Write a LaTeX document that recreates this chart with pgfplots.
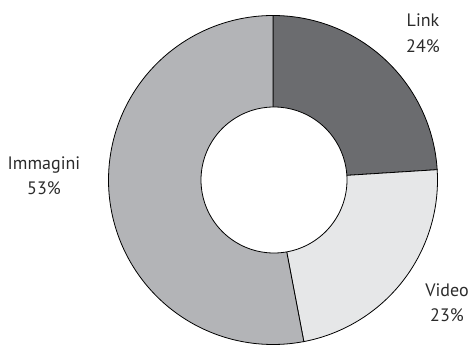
\documentclass[border=0pt]{standalone}
\usepackage{pgfplots}
\pgfplotsset{compat=1.18}
\usepackage{fontspec}
\setmainfont{PT Sans}
\definecolor{clink}{HTML}{6B6C6F}
\definecolor{cvideo}{HTML}{E6E7E8}
\definecolor{cimm}{HTML}{B3B4B7}
\definecolor{txt}{HTML}{2B2B2B}
\begin{document}
\begin{tikzpicture}
\useasboundingbox (0,0) rectangle (472pt,346pt);
\begin{axis}[
  x=1pt, y=1pt, xmin=0, xmax=472, ymin=0, ymax=346,
  at={(0,0)}, anchor=origin, hide axis, clip=false,
  samples=200, variable=\t,
]
% shares: Link 24, Video 23, Immagini 53 (percent), clockwise from top
\addplot[fill=clink, draw=black, line width=0.8pt, domain=90:{90-3.6*24}]
  ({273+164.5*cos(t)},{166+164.5*sin(t)}) -- (axis cs:273,166) -- cycle;
\addplot[fill=cvideo, draw=black, line width=0.8pt, domain={90-3.6*24}:{90-3.6*(24+23)}]
  ({273+164.5*cos(t)},{166+164.5*sin(t)}) -- (axis cs:273,166) -- cycle;
\addplot[fill=cimm, draw=black, line width=0.8pt, domain={90-3.6*(24+23)}:{90-3.6*(24+23+53)}]
  ({273+164.5*cos(t)},{166+164.5*sin(t)}) -- (axis cs:273,166) -- cycle;
\addplot[fill=white, draw=black, line width=0.8pt, domain=0:360]
  ({274+73*cos(t)},{166+73*sin(t)}) -- cycle;
\node[txt, font=\fontsize{18}{26}\selectfont, align=center, anchor=base] at (axis cs:423,293) {Link\\24\%};
\node[txt, font=\fontsize{18}{26}\selectfont, align=center, anchor=base] at (axis cs:447,24) {Video\\23\%};
\node[txt, font=\fontsize{18}{26}\selectfont, align=center, anchor=base] at (axis cs:44,151) {Immagini\\53\%};
\end{axis}
\end{tikzpicture}
\end{document}
